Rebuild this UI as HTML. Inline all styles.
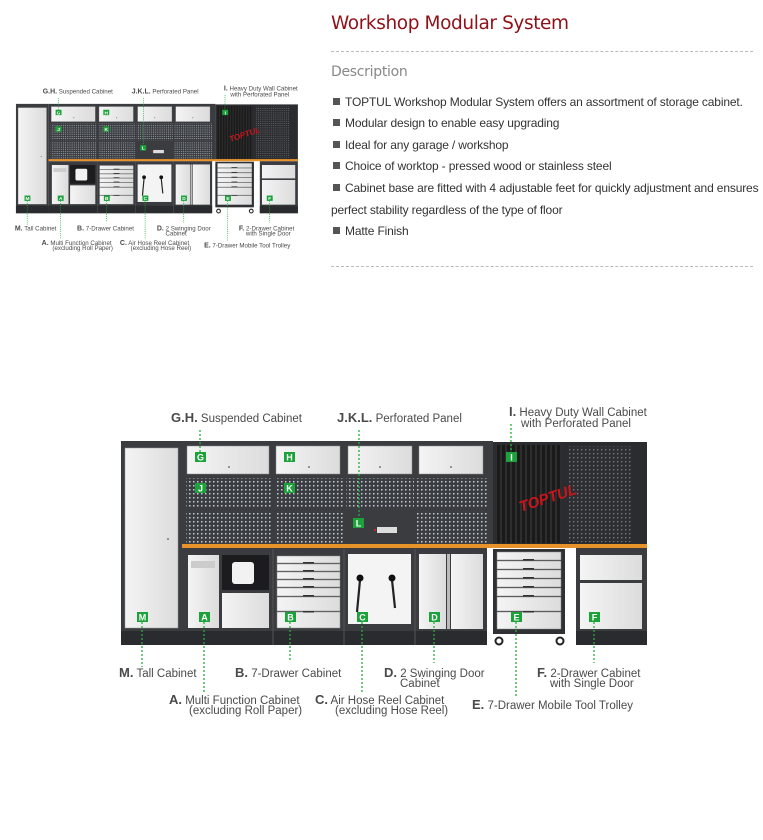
<!DOCTYPE html>
<html><head><meta charset="utf-8"><style>
body{margin:0;width:763px;height:840px;background:#fff;position:relative;overflow:hidden;font-family:"Liberation Sans",Arial,sans-serif}
.t{position:absolute;left:331px;top:13px;font-size:18.5px;color:#8f1117;font-family:"DejaVu Sans","Liberation Sans",sans-serif;letter-spacing:-0.4px}
.hr{position:absolute;left:331px;width:422px;border-top:1px dashed #bbb}
.d{position:absolute;left:331px;top:64px;font-size:14px;color:#888;font-family:"DejaVu Sans","Liberation Sans",sans-serif;letter-spacing:-0.3px}
.l{position:absolute;left:331px;font-size:12px;color:#333;white-space:nowrap;letter-spacing:-0.15px}
.sq{display:inline-block;width:7px;height:7px;background:#555;margin:0 5px 1px 2px}
svg{position:absolute;left:0;top:0}
</style></head><body>
<div class="t">Workshop Modular System</div>
<div class="hr" style="top:51px"></div>
<div class="d">Description</div>
<div class="l" style="top:95px"><span class="sq"></span>TOPTUL Workshop Modular System offers an assortment of storage cabinet.</div>
<div class="l" style="top:116px"><span class="sq"></span>Modular design to enable easy upgrading</div>
<div class="l" style="top:138px"><span class="sq"></span>Ideal for any garage / workshop</div>
<div class="l" style="top:159px"><span class="sq"></span>Choice of worktop - pressed wood or stainless steel</div>
<div class="l" style="top:181px"><span class="sq"></span>Cabinet base are fitted with 4 adjustable feet for quickly adjustment and ensures</div>
<div class="l" style="top:203px">perfect stability regardless of the type of floor</div>
<div class="l" style="top:224px"><span class="sq"></span>Matte Finish</div>
<div class="hr" style="top:266px"></div>

<svg width="763" height="840" viewBox="0 0 763 840" xmlns="http://www.w3.org/2000/svg">
<defs>
<pattern id="dots" width="4" height="4" patternUnits="userSpaceOnUse"><rect width="4" height="4" fill="#3a3d42"/><rect x="1" y="1" width="1.5" height="1.5" fill="#c9ccd0"/></pattern>
<pattern id="dots2" width="4" height="4" patternUnits="userSpaceOnUse"><rect width="4" height="4" fill="#2c2e31"/><rect x="1" y="1" width="1.4" height="1.4" fill="#77797d"/></pattern>
<pattern id="strp" width="5" height="10" patternUnits="userSpaceOnUse"><rect width="5" height="10" fill="#1a1a1a"/><rect width="2" height="10" fill="#2e2e2e"/></pattern>
<linearGradient id="wh" x1="0" x2="1"><stop offset="0" stop-color="#f4f4f4"/><stop offset="1" stop-color="#dcdcdc"/></linearGradient>
</defs>
<g id="dg">
<rect x="121" y="441" width="61" height="204" fill="#3a3c40"/>
<rect x="125" y="448" width="53" height="180" fill="url(#wh)" stroke="#999" stroke-width=".5"/>
<circle cx="168" cy="539" r=".8" fill="#333"/>
<rect x="182" y="441" width="311" height="104" fill="#3a3c40"/>
<g fill="url(#wh)" stroke="#888" stroke-width=".5">
<rect x="187" y="446" width="82" height="28"/><rect x="276" y="446" width="64" height="28"/>
<rect x="348" y="446" width="64" height="28"/><rect x="419" y="446" width="64" height="28"/>
</g>
<g fill="#333"><circle cx="229" cy="467" r=".8"/><circle cx="309" cy="467" r=".8"/><circle cx="380" cy="467" r=".8"/><circle cx="451" cy="467" r=".8"/></g>
<rect x="186" y="478" width="86" height="31" fill="url(#dots)"/><rect x="186" y="511" width="86" height="32" fill="url(#dots)"/>
<rect x="275" y="478" width="68" height="31" fill="url(#dots)"/><rect x="275" y="511" width="68" height="32" fill="url(#dots)"/>
<rect x="346" y="478" width="68" height="31" fill="url(#dots)"/>
<rect x="417" y="478" width="70" height="31" fill="url(#dots)"/><rect x="417" y="511" width="70" height="32" fill="url(#dots)"/>
<rect x="377" y="527" width="20" height="6" fill="#ddd"/><circle cx="375" cy="530" r="1" fill="#d22"/>
<rect x="493" y="442" width="154" height="104" fill="#2a2c2f"/>
<rect x="496" y="445" width="66" height="98" fill="url(#strp)"/>
<rect x="569" y="446" width="62" height="96" fill="url(#dots2)"/>
<text x="521" y="512" font-size="15" font-style="italic" font-weight="bold" fill="#c8161d" transform="rotate(-18 521 512)" font-family="Liberation Sans,sans-serif">TOPTUL</text>
<rect x="182" y="544" width="465" height="4" fill="#e8922a"/>
<rect x="182" y="548" width="305" height="97" fill="#3a3c40"/>
<rect x="576" y="548" width="71" height="97" fill="#3a3c40"/>
<rect x="182" y="631" width="305" height="14" fill="#2a2b2e"/><rect x="121" y="631" width="61" height="14" fill="#2a2b2e"/><rect x="576" y="631" width="71" height="14" fill="#2a2b2e"/>
<g stroke="#555" stroke-width="1"><line x1="273" y1="549" x2="273" y2="645"/><line x1="344" y1="549" x2="344" y2="645"/><line x1="415" y1="549" x2="415" y2="645"/></g>
<rect x="188" y="555" width="31" height="73" fill="url(#wh)"/><rect x="191" y="561" width="24" height="7" fill="#ccc"/>
<rect x="222" y="555" width="47" height="35" fill="#1c1c1e"/><rect x="232" y="562" width="22" height="22" rx="3" fill="#f2f2f2"/>
<rect x="222" y="593" width="47" height="35" fill="url(#wh)"/>
<g fill="url(#wh)" stroke="#888" stroke-width=".5">
<rect x="277" y="556" width="63" height="7"/><rect x="277" y="564" width="63" height="7"/><rect x="277" y="572" width="63" height="7"/><rect x="277" y="580" width="63" height="7"/><rect x="277" y="588" width="63" height="8"/><rect x="277" y="597" width="63" height="14"/><rect x="277" y="612" width="63" height="16"/></g>
<g fill="#333"><rect x="303" y="562" width="11" height="1.5"/><rect x="303" y="570" width="11" height="1.5"/><rect x="303" y="578" width="11" height="1.5"/><rect x="303" y="586" width="11" height="1.5"/><rect x="303" y="595" width="11" height="1.5"/><rect x="303" y="611" width="11" height="1.5"/></g>
<rect x="348" y="554" width="63" height="70" fill="#f4f4f4"/>
<g stroke="#222" stroke-width="2.2"><line x1="360" y1="580" x2="357" y2="612"/><line x1="392" y1="580" x2="395" y2="608"/></g>
<circle cx="360" cy="578" r="3.5" fill="#111"/><circle cx="392" cy="578" r="3.5" fill="#111"/>
<rect x="419" y="554" width="27" height="75" fill="url(#wh)"/><rect x="447" y="554" width="3" height="75" fill="#bbb"/><rect x="451" y="554" width="32" height="75" fill="url(#wh)"/>
<rect x="493" y="549" width="72" height="85" fill="#2f3134"/>
<g fill="url(#wh)" stroke="#888" stroke-width=".5">
<rect x="497" y="552" width="64" height="8"/><rect x="497" y="561" width="64" height="8"/><rect x="497" y="570" width="64" height="8"/><rect x="497" y="579" width="64" height="8"/><rect x="497" y="588" width="64" height="8"/><rect x="497" y="597" width="64" height="14"/><rect x="497" y="612" width="64" height="17"/></g>
<g fill="#333"><rect x="523" y="559" width="11" height="1.5"/><rect x="523" y="568" width="11" height="1.5"/><rect x="523" y="577" width="11" height="1.5"/><rect x="523" y="586" width="11" height="1.5"/><rect x="523" y="595" width="11" height="1.5"/><rect x="523" y="611" width="11" height="1.5"/></g>
<circle cx="499" cy="641" r="3.5" fill="none" stroke="#222" stroke-width="2"/><circle cx="560" cy="641" r="3.5" fill="none" stroke="#222" stroke-width="2"/>
<rect x="580" y="555" width="62" height="25" fill="url(#wh)"/><rect x="580" y="583" width="62" height="46" fill="url(#wh)"/>
<g stroke="#1fb13c" stroke-width="1.3" stroke-dasharray="2 2" fill="none">
<line x1="200" y1="430" x2="200" y2="452"/><line x1="359" y1="430" x2="359" y2="518"/><line x1="511" y1="424" x2="511" y2="452"/>
<line x1="142" y1="622" x2="142" y2="667"/><line x1="204" y1="622" x2="204" y2="692"/><line x1="290" y1="622" x2="290" y2="662"/><line x1="362" y1="622" x2="362" y2="692"/><line x1="434" y1="622" x2="434" y2="663"/><line x1="516" y1="622" x2="516" y2="698"/><line x1="594" y1="622" x2="594" y2="663"/>
</g>
<g fill="#1ca23b">
<rect x="195" y="452" width="11" height="10"/><rect x="284" y="452" width="11" height="10"/><rect x="506" y="452" width="11" height="10"/>
<rect x="195" y="483" width="11" height="10"/><rect x="284" y="483" width="11" height="10"/><rect x="353" y="518" width="11" height="10"/>
<rect x="137" y="612" width="11" height="10"/><rect x="199" y="612" width="11" height="10"/><rect x="285" y="612" width="11" height="10"/><rect x="357" y="612" width="11" height="10"/><rect x="429" y="612" width="11" height="10"/><rect x="511" y="612" width="11" height="10"/><rect x="589" y="612" width="11" height="10"/>
</g>
<g fill="#fff" font-size="9" font-weight="bold" text-anchor="middle" font-family="Liberation Sans,sans-serif">
<text x="200.5" y="460.5">G</text><text x="289.5" y="460.5">H</text><text x="511.5" y="460.5">I</text>
<text x="200.5" y="491.5">J</text><text x="289.5" y="491.5">K</text><text x="358.5" y="526.5">L</text>
<text x="142.5" y="620.5">M</text><text x="204.5" y="620.5">A</text><text x="290.5" y="620.5">B</text><text x="362.5" y="620.5">C</text><text x="434.5" y="620.5">D</text><text x="516.5" y="620.5">E</text><text x="594.5" y="620.5">F</text>
</g>
<g fill="#4a4a4a" font-size="11.5" font-family="Liberation Sans,sans-serif">
<text x="171" y="422"><tspan font-weight="bold" font-size="13">G.H.</tspan> Suspended Cabinet</text>
<text x="337" y="422"><tspan font-weight="bold" font-size="13">J.K.L.</tspan> Perforated Panel</text>
<text x="509" y="416"><tspan font-weight="bold" font-size="13">I.</tspan> Heavy Duty Wall Cabinet</text>
<text x="521" y="427">with Perforated Panel</text>
<text x="119" y="677"><tspan font-weight="bold" font-size="13">M.</tspan> Tall Cabinet</text>
<text x="235" y="677"><tspan font-weight="bold" font-size="13">B.</tspan> 7-Drawer Cabinet</text>
<text x="384" y="677"><tspan font-weight="bold" font-size="13">D.</tspan> 2 Swinging Door</text>
<text x="400" y="687">Cabinet</text>
<text x="537" y="677"><tspan font-weight="bold" font-size="13">F.</tspan> 2-Drawer Cabinet</text>
<text x="550" y="687">with Single Door</text>
<text x="169" y="704"><tspan font-weight="bold" font-size="13">A.</tspan> Multi Function Cabinet</text>
<text x="189" y="714">(excluding Roll Paper)</text>
<text x="315" y="704"><tspan font-weight="bold" font-size="13">C.</tspan> Air Hose Reel Cabinet</text>
<text x="335" y="714">(excluding Hose Reel)</text>
<text x="472" y="709"><tspan font-weight="bold" font-size="13">E.</tspan> 7-Drawer Mobile Tool Trolley</text>
</g>
</g>
<use href="#dg" transform="translate(-48.9 -132.5) scale(0.536)"/>
</svg>
</body></html>
